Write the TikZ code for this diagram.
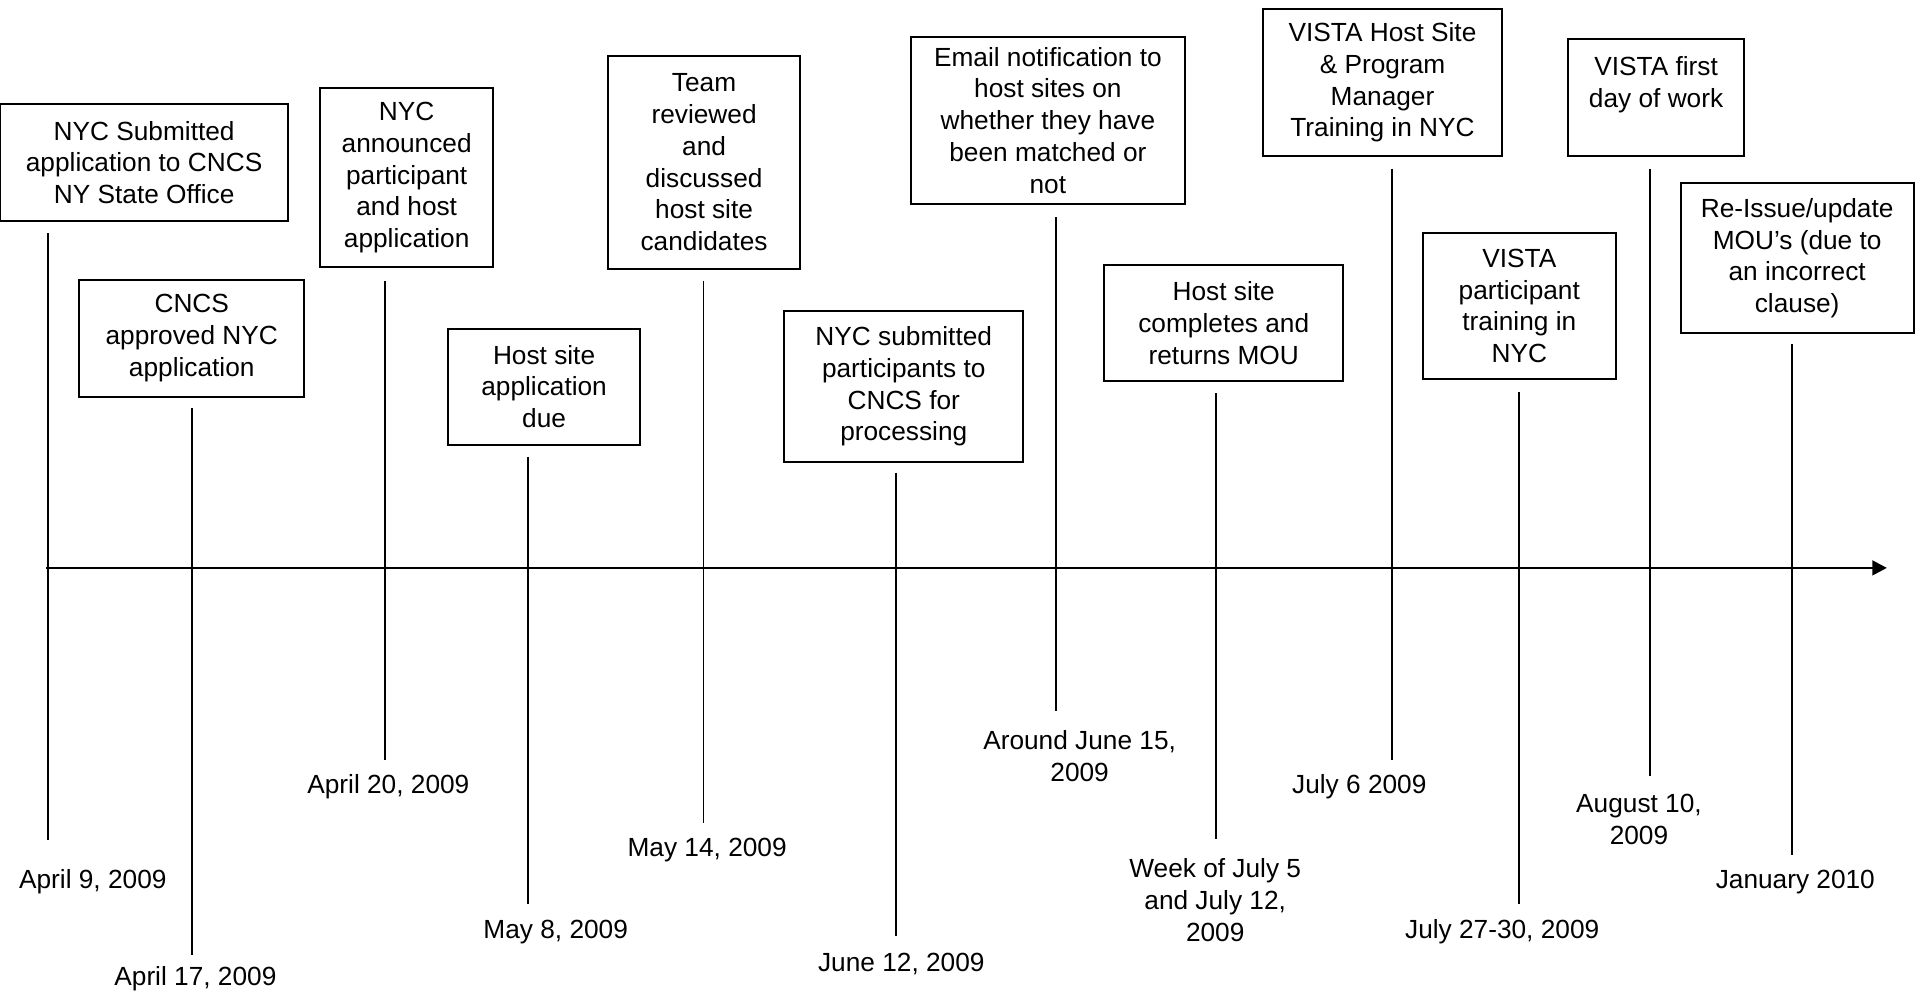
\documentclass[tikz,border=0pt]{standalone}
\usepackage{fontspec}
\setmainfont{Liberation Sans}
\usetikzlibrary{arrows.meta}
\tikzset{
  evt/.style={rectangle, draw, line width=1.6pt,
    align=center, inner sep=0pt,
    font=\fontsize{21.5}{26}\selectfont},
  datelbl/.style={align=center, inner sep=0pt,
    font=\fontsize{21.5}{26}\selectfont},
  tick/.style={line width=1.6pt},
  axis/.style={-{Triangle[length=12pt, width=12pt]}, line width=2.2pt},
}

\begin{document}
\begin{tikzpicture}[x=1pt, y=-1pt]
  \useasboundingbox (0,0) rectangle (1568,816);

  % Event boxes
  \node[evt, minimum width=236pt, minimum height=96pt] (app) at (118,133)
    {NYC Submitted\\application to CNCS\\NY State Office};
  \node[evt, minimum width=184pt, minimum height=96pt] (approved) at (157,277)
    {CNCS\\approved NYC\\application};
  \node[evt, minimum width=142pt, minimum height=147pt] (announce) at (333,145.5)
    {NYC\\announced\\participant\\and host\\application};
  \node[evt, minimum width=157pt, minimum height=95pt] (hostdue) at (445.5,316.5)
    {Host site\\application\\due};
  \node[evt, minimum width=157pt, minimum height=174pt] (review) at (576.5,133)
    {Team\\reviewed\\and\\discussed\\host site\\candidates};
  \node[evt, minimum width=196pt, minimum height=123pt] (submit) at (740,316.5)
    {NYC submitted\\participants to\\CNCS for\\processing};
  \node[evt, minimum width=224pt, minimum height=137pt] (email) at (858,98.5)
    {Email notification to\\host sites on\\whether they have\\been matched or\\not};
  \node[evt, minimum width=196pt, minimum height=95pt] (mou) at (1002,264.5)
    {Host site\\completes and\\returns MOU};
  \node[evt, minimum width=196pt, minimum height=121pt] (hosttrain) at (1132,67.5)
    {VISTA Host Site\\\& Program\\Manager\\Training in NYC};
  \node[evt, minimum width=158pt, minimum height=119pt] (parttrain) at (1244,250.5)
    {VISTA\\participant\\training in\\NYC};
  \node[evt, minimum width=144pt, minimum height=96pt] (firstday) at (1356,80)
    {VISTA first\\day of work\\~};
  \node[evt, minimum width=191pt, minimum height=123pt] (reissue) at (1471.5,211.5)
    {Re-Issue/update\\MOU’s (due to\\an incorrect\\clause)};

  % Dates
  \node[datelbl] (dapp)       at (76,722)   {April 9, 2009};
  \node[datelbl] (dapproved)  at (160,801)  {April 17, 2009};
  \node[datelbl] (dannounce)  at (318,644)  {April 20, 2009};
  \node[datelbl] (dhostdue)   at (455,763)  {May 8, 2009};
  \node[datelbl] (dreview)    at (579,696)  {May 14, 2009};
  \node[datelbl] (dsubmit)    at (738,789)  {June 12, 2009};
  \node[datelbl] (demail)     at (884,619)  {Around June 15,\\2009};
  \node[datelbl] (dmou)       at (995,737)  {Week of July 5\\and July 12,\\2009};
  \node[datelbl] (dhosttrain) at (1113,644) {July 6 2009};
  \node[datelbl] (dparttrain) at (1230,763) {July 27-30, 2009};
  \node[datelbl] (dfirstday)  at (1342,671) {August 10,\\2009};
  \node[datelbl] (dreissue)   at (1470,722) {January 2010};

  % Ticks
  \draw[tick] (39,191)   -- (39,688);
  \draw[tick] (157,334)  -- (157,782);
  \draw[tick] (315,230)  -- (315,622);
  \draw[tick] (432,374)  -- (432,740);
  \draw[tick] (576,230)  -- (576,674);
  \draw[tick] (734,387)  -- (734,766);
  \draw[tick] (865,178)  -- (865,582);
  \draw[tick] (996,322)  -- (996,687);
  \draw[tick] (1140,138) -- (1140,622);
  \draw[tick] (1244,321) -- (1244,740);
  \draw[tick] (1351,138) -- (1351,635);
  \draw[tick] (1467,282) -- (1467,700);

  % Time axis
  \coordinate (tstart) at (38,465);
  \coordinate (tend)   at (1545,465);
  \draw[axis] (tstart) -- (tend);

\end{tikzpicture}
\end{document}
